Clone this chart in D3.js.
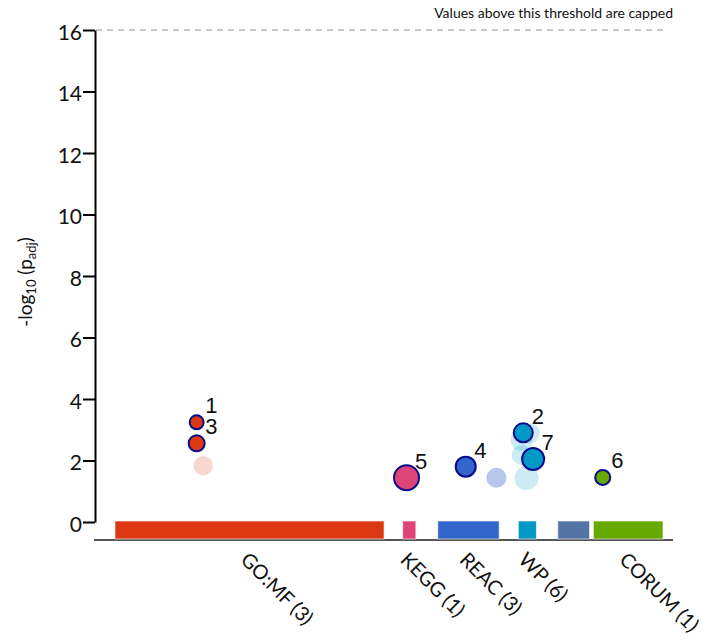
<!DOCTYPE html>
<html>
<head>
<meta charset="utf-8">
<script src="https://cdn.jsdelivr.net/npm/d3@7"></script>
<style>
  html, body { margin: 0; padding: 0; background: #fff; }
  svg { display: block; }
</style>
</head>
<body>
<svg id="chart" width="702" height="643"></svg>
<script>
// Data sources and their term ranges (in ordered term units, 0..1000)
const sources = ["GO:MF", "KEGG", "REAC", "WP", "TF", "CORUM"];
const sourceColors = ["#dc3912", "#dd4477", "#3366cc", "#0099c6", "#5574a6", "#66aa00"];
const sourceStart = [0, 525, 589, 736, 808, 873];
const sourceEnd = [491, 549, 701, 769, 866, 1000];
const sourceCounts = [3, 1, 3, 6, 0, 1];

// Significant terms: source, term position, -log10(p_adj), term size, highlight id
const termSource = ["GO:MF", "GO:MF", "GO:MF", "KEGG", "REAC", "REAC", "REAC",
                    "WP", "WP", "WP", "WP", "WP", "WP", "CORUM"];
const termPos    = [149, 149, 161, 532, 640, 696, 696, 757, 742, 742, 751, 745, 763, 890];
const termValue  = [3.24, 2.56, 1.83, 1.44, 1.80, 1.44, 1.44, 2.89, 2.67, 2.18, 1.43, 2.90, 2.05, 1.45];
const termSize   = [157, 205, 301, 500, 320, 320, 320, 320, 387, 320, 461, 289, 387, 180];
const termId     = [1, 3, null, 5, 4, null, null, null, null, null, null, 2, 7, 6];

const yTicks = [0, 2, 4, 6, 8, 10, 12, 14, 16];
const yCap = 16;

const svg = d3.select("#chart");
const font = "Lato, 'Open Sans', sans-serif";

const x = d3.scaleLinear().domain([0, 1000]).range([115, 663]);
const y = d3.scaleLinear().domain([0, yCap]).range([522, 30]);
const r = d3.scaleSqrt().domain([0, 500]).range([0, 12.5]);
const color = d3.scaleOrdinal().domain(sources).range(sourceColors);

const axisY = 540;

// Cap threshold line
svg.append("line")
  .attr("x1", 96).attr("x2", 668)
  .attr("y1", y(yCap)).attr("y2", y(yCap))
  .attr("stroke", "#c8c8c8").attr("stroke-width", 2)
  .attr("stroke-dasharray", "6,5");

svg.append("text")
  .attr("x", 673).attr("y", 18)
  .attr("text-anchor", "end")
  .attr("font-family", font).attr("font-size", 14)
  .attr("fill", "#111")
  .text("Values above this threshold are capped");

// Y axis
const gy = svg.append("g")
  .attr("transform", "translate(95,0)")
  .call(d3.axisLeft(y).tickValues(yTicks).tickSize(12).tickSizeOuter(0).tickPadding(1).tickFormat(d3.format("d")));
gy.select(".domain").attr("stroke", "#000").attr("stroke-width", 2);
gy.selectAll(".tick line").attr("stroke", "#000").attr("stroke-width", 2);
gy.selectAll(".tick text")
  .attr("font-family", font).attr("font-size", 21).attr("fill", "#111")
  .attr("dy", "0.45em");

// Y axis title with subscripts
const yt = svg.append("text")
  .attr("transform", "translate(32,282) rotate(-90)")
  .attr("text-anchor", "middle")
  .attr("font-family", font).attr("font-size", 19).attr("fill", "#111");
yt.append("tspan").text("-log");
yt.append("tspan").attr("font-size", 13).attr("dy", 4).text("10");
yt.append("tspan").attr("dy", -4).text(" (p");
yt.append("tspan").attr("font-size", 13).attr("dy", 4).text("adj");
yt.append("tspan").attr("dy", -4).text(")");

// Bottom axis line
svg.append("line")
  .attr("x1", 94).attr("x2", 673)
  .attr("y1", axisY).attr("y2", axisY)
  .attr("stroke", "#555").attr("stroke-width", 2);

// Source bars
svg.append("g").selectAll("rect")
  .data(sources)
  .join("rect")
  .attr("x", (d, i) => x(sourceStart[i]))
  .attr("width", (d, i) => x(sourceEnd[i]) - x(sourceStart[i]))
  .attr("y", y(0) - 1)
  .attr("height", axisY - 1 - (y(0) - 1))
  .attr("fill", d => color(d))
  .attr("stroke", "#fff").attr("stroke-opacity", 0.6).attr("stroke-width", 1);

// Source labels
svg.append("g").selectAll("text")
  .data(sources.filter((d, i) => sourceCounts[i] > 0))
  .join("text")
  .attr("transform", d => {
    const i = sources.indexOf(d);
    const cx = (x(sourceStart[i]) + x(sourceEnd[i])) / 2;
    return `translate(${cx - 10},561) rotate(45)`;
  })
  .attr("font-family", font).attr("font-size", 20).attr("fill", "#111")
  .text(d => `${d} (${sourceCounts[sources.indexOf(d)]})`);

// Terms
const terms = termSource.map((s, i) => ({
  source: s, pos: termPos[i], value: termValue[i], size: termSize[i], id: termId[i]
}));

svg.append("g").selectAll("circle")
  .data(terms.filter(d => d.id === null))
  .join("circle")
  .attr("cx", d => x(d.pos)).attr("cy", d => y(Math.min(d.value, yCap)))
  .attr("r", d => r(d.size))
  .attr("fill", d => color(d.source)).attr("fill-opacity", 0.2);

const hi = terms.filter(d => d.id !== null);
svg.append("g").selectAll("circle")
  .data(hi)
  .join("circle")
  .attr("cx", d => x(d.pos)).attr("cy", d => y(Math.min(d.value, yCap)))
  .attr("r", d => r(d.size))
  .attr("fill", d => color(d.source))
  .attr("stroke", "#0a0a8c").attr("stroke-width", 2);

svg.append("g").selectAll("text")
  .data(hi)
  .join("text")
  .attr("x", d => x(d.pos) + 8.5)
  .attr("y", d => y(Math.min(d.value, yCap)) - 9)
  .attr("font-family", "'Liberation Sans', Arial, sans-serif")
  .attr("font-size", 22).attr("fill", "#111")
  .text(d => d.id);
</script>
</body>
</html>
